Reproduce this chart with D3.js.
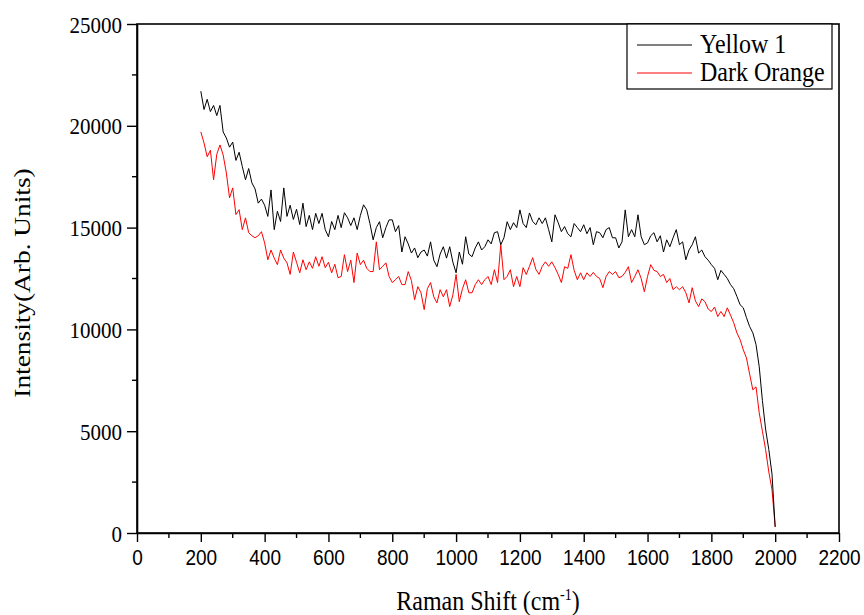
<!DOCTYPE html>
<html>
<head>
<meta charset="utf-8">
<script src="https://cdn.jsdelivr.net/npm/d3@7"></script>
<style>
  html, body { margin: 0; padding: 0; background: #fff; }
  svg { display: block; }
  .serif { font-family: "Liberation Serif", "Times New Roman", serif; }
  .sans { font-family: "Liberation Sans", Arial, sans-serif; }
</style>
</head>
<body>
<svg id="chart" width="864" height="615"></svg>
<script>
// Raman shift sampled every 10 cm-1 from 200 to 2000
const shiftStart = 200;
const shiftStep = 10;

// Intensity of the "Yellow 1" sample
const yellow1 = [
  21700, 20800, 21300, 20700, 21000, 20500, 21000, 19700, 19400, 18950,
  19200, 18300, 18700, 18000, 17350, 17900, 17200, 16900, 16200, 16400,
  16100, 15550, 16850, 14900, 15800, 15300, 16950, 15550, 16100, 15400,
  15900, 15150, 16200, 15050, 15600, 14900, 15700, 15200, 15700, 14900,
  14550, 15300, 14900, 15600, 15000, 15730, 15480, 15100, 15480, 14900,
  15600, 16120, 15870, 15200, 14400, 15000, 15290, 14500, 15000, 15380,
  15380, 14800, 15100, 13800, 14550, 14200, 13750, 14000, 13520, 13800,
  13900, 13600, 14300, 13400, 13080, 13700, 14060, 13500, 14060, 13300,
  12780, 13800, 13200, 14550, 13700, 13570, 14000, 14300, 13900, 14060,
  14400, 14200, 14750, 14800, 14160, 14500, 15290, 14900, 15240, 15000,
  15870, 15200, 15000, 15720, 15300, 15140, 15480, 15200, 15480, 14900,
  14300, 15630, 15240, 14800, 15050, 14700, 14550, 15200, 15000, 14800,
  15140, 14700, 15000, 14160, 14800, 14750, 14500, 14900, 15000, 14500,
  14500, 14000, 14300, 15870, 14550, 14900, 14550, 15630, 14550, 14160,
  14250, 14600, 14750, 14300, 14600, 13800, 14400, 14060, 14500, 14900,
  14160, 14300, 13420, 13900, 14160, 14550, 13750, 13900, 13570, 13400,
  13180, 13000, 12440, 12900, 12700, 12500, 12200, 12000, 11620, 11210,
  11060, 10580, 10140, 9830, 9250, 8170, 6500, 5100, 4100, 2900,
  300
];

// Intensity of the "Dark Orange" sample
const darkOrange = [
  19700, 19160, 18480, 18800, 17350, 18600, 19060, 18570, 17680, 16460,
  16950, 15640, 15880, 14900, 15480, 14750, 14600, 14500, 14600, 14800,
  14250, 13420, 13900, 13500, 13180, 13900, 13500, 13270, 12700, 13800,
  13300, 12780, 13420, 12930, 13320, 13000, 13570, 13100, 13570, 13030,
  13300, 12780, 13200, 12540, 12600, 13670, 12840, 13400, 12300, 13750,
  13180, 13400, 13000, 12840, 12840, 14300, 12930, 13100, 13270, 12600,
  12300, 12440, 12600, 12200, 12200, 12840, 12400, 11460, 12100, 11800,
  10970, 12000, 12300, 11600, 11300, 11950, 11600, 11950, 11120, 11700,
  12700, 11360, 12000, 12440, 11800, 11800, 12200, 12440, 12200, 12440,
  12600, 12200, 12930, 12300, 14160, 12440, 12600, 12930, 12100, 12600,
  12100, 13030, 12700, 13100, 13520, 12950, 12700, 13100, 13320, 13100,
  13320, 13030, 12700, 12300, 13080, 13000, 13670, 12900, 12440, 12780,
  12440, 12780, 12600, 12800, 12600, 12500, 12050, 12600, 12840, 12700,
  12840, 12540, 12600, 12800, 13080, 12300, 12600, 12930, 12500, 11850,
  12600, 13180, 12900, 12840, 12600, 12700, 12300, 12500, 11950, 12100,
  11950, 12100, 11800, 11300, 12050, 11400, 11120, 11500, 11360, 11000,
  10880, 11100, 10630, 10880, 10630, 11060, 10700, 10330, 9830, 9500,
  9000, 8600, 7800, 7030, 7180, 5900, 5000, 4100, 3000, 2130,
  300
];

const seriesNames = ["Yellow 1", "Dark Orange"];
const seriesColors = ["#000000", "#ff0000"];

const xTicks = [0, 200, 400, 600, 800, 1000, 1200, 1400, 1600, 1800, 2000, 2200];
const yTicks = [0, 5000, 10000, 15000, 20000, 25000];

// glyphs are drawn slightly taller than wide
const stretch = 1.14;

const svg = d3.select("#chart");
const plotL = 137, plotR = 839, plotT = 24, plotB = 533;

const x = d3.scaleLinear().domain([0, 2200]).range([plotL, plotR]);
const y = d3.scaleLinear().domain([0, 25000]).range([plotB, plotT]);

const toPoints = arr => arr.map((v, i) => [shiftStart + i * shiftStep, v]);
const series = [toPoints(yellow1), toPoints(darkOrange)];

const line = d3.line().x(d => x(d[0])).y(d => y(d[1]));

// spectra (orange first so the black trace sits on top)
[1, 0].forEach(k => {
  svg.append("path")
    .datum(series[k])
    .attr("fill", "none")
    .attr("stroke", seriesColors[k])
    .attr("stroke-width", 1)
    .attr("stroke-linejoin", "round")
    .attr("d", line);
});

// frame
svg.append("rect")
  .attr("x", plotL).attr("y", plotT)
  .attr("width", plotR - plotL).attr("height", plotB - plotT)
  .attr("fill", "none").attr("stroke", "#000").attr("stroke-width", 1.6);

// x axis
const xAxis = d3.axisBottom(x).tickValues(xTicks).tickFormat(d3.format("d"))
  .tickSize(9).tickSizeOuter(0);
const gx = svg.append("g").attr("transform", `translate(0,${plotB})`).call(xAxis);
gx.select(".domain").attr("stroke-width", 1.6);
gx.selectAll(".tick line").attr("stroke-width", 1.4);
gx.selectAll(".tick text")
  .attr("class", "sans")
  .attr("y", null).attr("dy", null)
  .attr("transform", `translate(0,32) scale(1,${stretch})`)
  .attr("font-size", 19).attr("fill", "#000");
// minor x ticks
svg.append("g").selectAll("line")
  .data(d3.range(100, 2200, 200))
  .join("line")
  .attr("x1", d => x(d)).attr("x2", d => x(d))
  .attr("y1", plotB).attr("y2", plotB + 5)
  .attr("stroke", "#000").attr("stroke-width", 1.4);

// y axis
const yAxis = d3.axisLeft(y).tickValues(yTicks).tickFormat(d3.format("d"))
  .tickSize(10).tickSizeOuter(0);
const gy = svg.append("g").attr("transform", `translate(${plotL},0)`).call(yAxis);
gy.select(".domain").attr("stroke-width", 1.6);
gy.selectAll(".tick line").attr("stroke-width", 1.4);
gy.selectAll(".tick text")
  .attr("class", "serif")
  .attr("x", null).attr("dy", null)
  .attr("transform", `translate(-15,8) scale(1,${stretch})`)
  .attr("font-size", 21).attr("fill", "#000");
// minor y ticks
svg.append("g").selectAll("line")
  .data(d3.range(2500, 25000, 5000))
  .join("line")
  .attr("x1", plotL - 5).attr("x2", plotL)
  .attr("y1", d => y(d)).attr("y2", d => y(d))
  .attr("stroke", "#000").attr("stroke-width", 1.4);

// axis titles
svg.append("text")
  .attr("class", "serif")
  .attr("transform", `translate(488,610) scale(1,${stretch})`)
  .attr("text-anchor", "middle")
  .attr("font-size", 24)
  .html('Raman Shift (cm<tspan dy="-9" font-size="14">-1</tspan><tspan dy="9">)</tspan>');

svg.append("text")
  .attr("class", "serif")
  .attr("transform", `translate(30,283) scale(1,${stretch}) rotate(-90)`)
  .attr("text-anchor", "middle")
  .attr("font-size", 24)
  .text("Intensity(Arb. Units)");

// legend
const lg = svg.append("g");
lg.append("rect")
  .attr("x", 627).attr("y", plotT).attr("width", 205).attr("height", 65)
  .attr("fill", "#fff").attr("stroke", "#000").attr("stroke-width", 1.2);
seriesNames.forEach((name, i) => {
  const yy = 45 + i * 28;
  lg.append("line")
    .attr("x1", 637).attr("x2", 692).attr("y1", yy).attr("y2", yy)
    .attr("stroke", seriesColors[i]).attr("stroke-width", 1);
  lg.append("text")
    .attr("class", "serif")
    .attr("transform", `translate(700,${yy + 8}) scale(1,${stretch})`)
    .attr("font-size", 24)
    .text(name);
});
</script>
</body>
</html>
